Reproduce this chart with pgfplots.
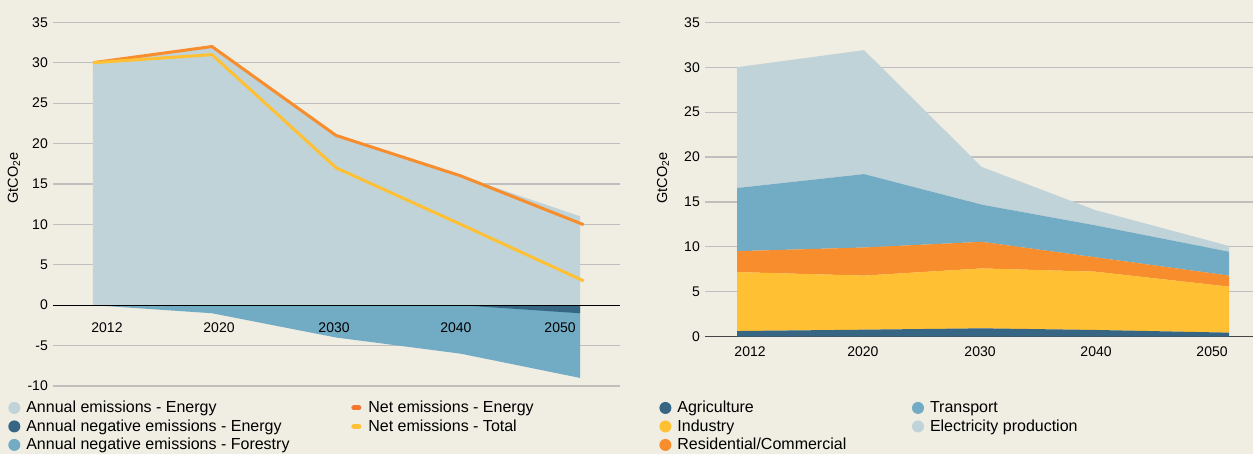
\documentclass[border=0pt]{standalone}
\usepackage{fontspec}
\setmainfont{Liberation Sans}
\usepackage{pgfplots}
\pgfplotsset{compat=1.18}
\definecolor{bg}{HTML}{F0EDE3}
\definecolor{cLight}{HTML}{C0D3D9}
\definecolor{cMid}{HTML}{72ABC4}
\definecolor{cDark}{HTML}{366683}
\definecolor{cOrange}{HTML}{F78D2D}
\definecolor{cOrangeLeg}{HTML}{F3772E}
\definecolor{cYellow}{HTML}{FFC033}
\definecolor{cGrid}{HTML}{BFBFBF}
\definecolor{cZero}{HTML}{464646}
\pgfplotsset{
  base/.style={
    scale only axis, anchor=south west,
    axis line style={draw=none},
    tick style={draw=none},
    tick label style={font=\fontsize{14}{16}\selectfont},
    /pgf/number format/assume math mode=true,
  },
  common/.style={
    base,
    ymajorgrids, grid style={cGrid, line width=1.2pt},
    yticklabel style={anchor=east, inner sep=0pt, xshift=-5pt},
    ylabel={GtCO\textsubscript{2}e},
    ylabel style={font=\fontsize{14.5}{17}\selectfont, anchor=center},
    legend columns=2,
    legend cell align=left,
    legend style={draw=none, fill=none, inner sep=0pt, outer sep=0pt,
      column sep=6pt, row sep=5.4pt, anchor=north west,
      font=\fontsize{16}{19}\selectfont, nodes={inner sep=0pt}},
  },
  dot/.style={legend image code/.code={\fill[#1, draw=none] (6pt,0pt) circle (6pt);}},
  dash/.style={legend image code/.code={\path[draw=none, fill=none] (0pt,-6pt) rectangle (12pt,6pt);
      \draw[#1, fill=none, line width=5pt, line cap=round] (3.5pt,0pt) -- (8.5pt,0pt);}},
}
\begin{document}
\begin{tikzpicture}
\useasboundingbox (0,0) rectangle (1253pt,454pt);
\fill[bg] (0,0) rectangle (1253pt,454pt);

% ---------------- left chart ----------------
\begin{axis}[common, at={(53pt,68pt)}, width=567pt, height=363.7pt,
  xmin=-0.3285, xmax=4.3285, ymin=-10, ymax=35, ytick={-10,-5,...,35},
  xtick=\empty,
  ylabel style={at={(axis description cs:-0.0688,0.572)}},
  legend style={at={(axis description cs:-0.0788,-0.0423)}},
]
\addplot[fill=cLight, draw=none, forget plot] coordinates
  {(0,30) (0.977,32) (1.996,21) (3.02,16) (4,11)} \closedcycle;
\addplot[fill=cMid, draw=none, forget plot] coordinates
  {(0,0) (0.977,-1) (1.996,-4) (3.02,-6) (4,-9)} \closedcycle;
\addplot[fill=cDark, draw=none, forget plot] coordinates
  {(3.02,0) (4,-1)} \closedcycle;
\addplot[black, line width=1.2pt, forget plot] coordinates
  {(-0.3285,0) (4.3285,0)};
\addplot[cOrange, line width=3pt, line join=round, forget plot] coordinates
  {(0,30) (0.977,32) (1.996,21) (3.02,16) (4.03,9.95)};
\addplot[cYellow, line width=3pt, line join=round, forget plot] coordinates
  {(0,30) (0.977,31) (1.996,17) (3.02,10) (4.03,3)};
\addlegendimage{dot=cLight}
\addlegendentry{\makebox[318pt][l]{Annual emissions - Energy}}
\addlegendimage{dash=cOrangeLeg}
\addlegendentry{Net emissions - Energy}
\addlegendimage{dot=cDark}
\addlegendentry{\makebox[318pt][l]{Annual negative emissions - Energy}}
\addlegendimage{dash=cYellow}
\addlegendentry{Net emissions - Total}
\addlegendimage{dot=cMid}
\addlegendentry{\makebox[318pt][l]{Annual negative emissions - Forestry}}
\end{axis}
% overlay axis carrying the year labels on top of the areas
\begin{axis}[base, at={(53pt,68pt)}, width=567pt, height=363.7pt,
  xmin=-0.3285, xmax=4.3285, ymin=-10, ymax=35, ytick=\empty,
  xtick={0.115,1.035,1.98,2.98,3.836},
  xticklabels={2012,2020,2030,2040,2050},
  xticklabel style={anchor=center, inner sep=0pt, yshift=58pt},
]
\end{axis}

% ---------------- right chart ----------------
\begin{axis}[common, at={(705pt,117.3pt)}, width=548pt, height=314.4pt,
  xmin=-0.2602, xmax=4.195, ymin=0, ymax=35, ytick={0,5,...,35},
  xtick={0.106,1.024,1.976,2.919,3.862},
  xticklabels={2012,2020,2030,2040,2050},
  xticklabel style={anchor=center, inner sep=0pt, yshift=-15pt},
  stack plots=y,
  ylabel style={at={(axis description cs:-0.0766,0.505)}},
  legend style={at={(axis description cs:-0.0832,-0.2058)}},
]
% Agriculture
\addplot[fill=cDark, draw=none, forget plot] coordinates
  {(0,0.63) (1.033,0.78) (1.989,0.93) (2.911,0.75) (4,0.45)} \closedcycle;
% Industry
\addplot[fill=cYellow, draw=none, forget plot] coordinates
  {(0,6.56) (1.033,6.02) (1.989,6.67) (2.911,6.49) (4,5.12)} \closedcycle;
% Residential/Commercial
\addplot[fill=cOrange, draw=none, forget plot] coordinates
  {(0,2.33) (1.033,3.13) (1.989,2.96) (2.911,1.60) (4,1.23)} \closedcycle;
% Transport
\addplot[fill=cMid, draw=none, forget plot] coordinates
  {(0,7.03) (1.033,8.17) (1.989,4.14) (2.911,3.56) (4,2.66)} \closedcycle;
% Electricity production
\addplot[fill=cLight, draw=none, forget plot] coordinates
  {(0,13.45) (1.033,13.80) (1.989,4.20) (2.911,1.70) (4,0.64)} \closedcycle;
\addplot[stack plots=false, cZero, line width=1.5pt, forget plot] coordinates
  {(-0.2602,0) (4.195,0)};
\addlegendimage{dot=cDark}
\addlegendentry{\makebox[228.6pt][l]{Agriculture}}
\addlegendimage{dot=cMid}
\addlegendentry{Transport}
\addlegendimage{dot=cYellow}
\addlegendentry{\makebox[228.6pt][l]{Industry}}
\addlegendimage{dot=cLight}
\addlegendentry{Electricity production}
\addlegendimage{dot=cOrange}
\addlegendentry{\makebox[228.6pt][l]{Residential/Commercial}}
\end{axis}
\end{tikzpicture}
\end{document}
